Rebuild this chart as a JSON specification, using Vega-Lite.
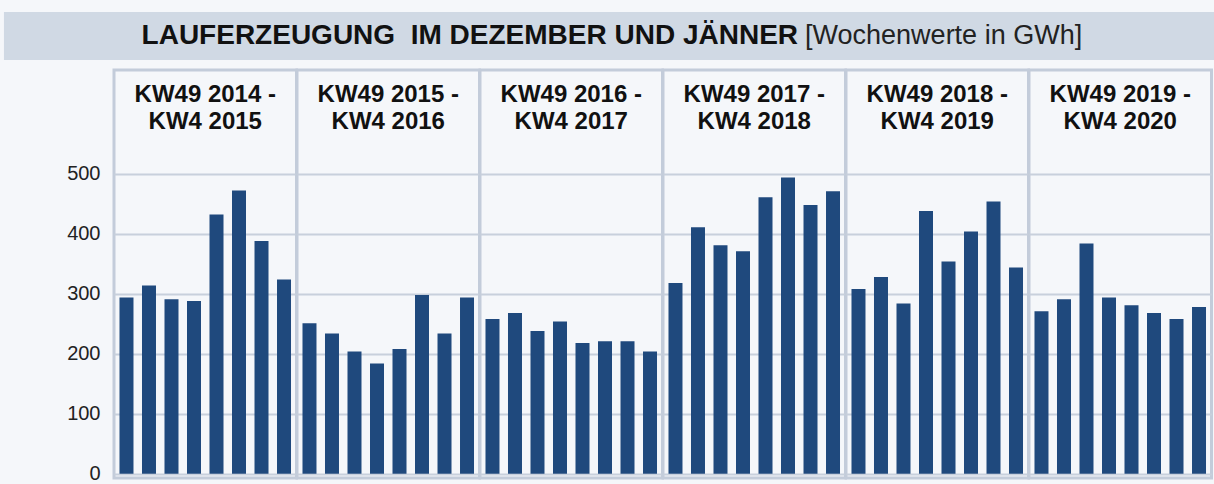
{
  "$schema": "https://vega.github.io/schema/vega-lite/v6.json",
  "background": "#f5f7fa",
  "padding": {"left": 3, "top": 12, "right": 0, "bottom": 5},
  "config": {"font": "Liberation Sans", "view": {"stroke": null}},
  "spacing": 8,
  "vconcat": [
    {
      "width": 1095,
      "height": 48,
      "view": {"stroke": null},
      "data": {"values": [{"bold": "LAUFERZEUGUNG\u00a0 IM DEZEMBER UND JÄNNER", "unit": "[Wochenwerte in GWh]"}]},
      "layer": [
        {
          "mark": {"type": "rect", "color": "#d0d9e4"},
          "encoding": {
            "x": {"datum": -0.1005, "type": "quantitative", "scale": {"domain": [0, 1]}, "axis": null},
            "x2": {"datum": 1.0055}
          }
        },
        {
          "mark": {"type": "text", "align": "right", "baseline": "middle", "fontSize": 28, "fontWeight": "bold", "color": "#111111"},
          "encoding": {
            "x": {"datum": 0.6247, "type": "quantitative", "scale": {"domain": [0, 1]}, "axis": null},
            "y": {"datum": 0.5, "type": "quantitative", "scale": {"domain": [0, 1]}, "axis": null},
            "text": {"field": "bold"}
          }
        },
        {
          "mark": {"type": "text", "align": "left", "baseline": "middle", "fontSize": 27, "fontWeight": "normal", "color": "#222222"},
          "encoding": {
            "x": {"datum": 0.6311, "type": "quantitative", "scale": {"domain": [0, 1]}, "axis": null},
            "y": {"datum": 0.5, "type": "quantitative", "scale": {"domain": [0, 1]}, "axis": null},
            "text": {"field": "unit"}
          }
        }
      ]
    },
    {
      "data": {"values": [
        {"period": "2014/15", "label": "KW49 2014 -\nKW4 2015", "week": "KW49", "value": 294},
        {"period": "2014/15", "label": "KW49 2014 -\nKW4 2015", "week": "KW50", "value": 314},
        {"period": "2014/15", "label": "KW49 2014 -\nKW4 2015", "week": "KW51", "value": 291},
        {"period": "2014/15", "label": "KW49 2014 -\nKW4 2015", "week": "KW52", "value": 288},
        {"period": "2014/15", "label": "KW49 2014 -\nKW4 2015", "week": "KW1", "value": 432},
        {"period": "2014/15", "label": "KW49 2014 -\nKW4 2015", "week": "KW2", "value": 472},
        {"period": "2014/15", "label": "KW49 2014 -\nKW4 2015", "week": "KW3", "value": 388},
        {"period": "2014/15", "label": "KW49 2014 -\nKW4 2015", "week": "KW4", "value": 324},
        {"period": "2015/16", "label": "KW49 2015 -\nKW4 2016", "week": "KW49", "value": 251},
        {"period": "2015/16", "label": "KW49 2015 -\nKW4 2016", "week": "KW50", "value": 234},
        {"period": "2015/16", "label": "KW49 2015 -\nKW4 2016", "week": "KW51", "value": 204},
        {"period": "2015/16", "label": "KW49 2015 -\nKW4 2016", "week": "KW52", "value": 184},
        {"period": "2015/16", "label": "KW49 2015 -\nKW4 2016", "week": "KW1", "value": 208},
        {"period": "2015/16", "label": "KW49 2015 -\nKW4 2016", "week": "KW2", "value": 298},
        {"period": "2015/16", "label": "KW49 2015 -\nKW4 2016", "week": "KW3", "value": 234},
        {"period": "2015/16", "label": "KW49 2015 -\nKW4 2016", "week": "KW4", "value": 294},
        {"period": "2016/17", "label": "KW49 2016 -\nKW4 2017", "week": "KW49", "value": 258},
        {"period": "2016/17", "label": "KW49 2016 -\nKW4 2017", "week": "KW50", "value": 268},
        {"period": "2016/17", "label": "KW49 2016 -\nKW4 2017", "week": "KW51", "value": 238},
        {"period": "2016/17", "label": "KW49 2016 -\nKW4 2017", "week": "KW52", "value": 254},
        {"period": "2016/17", "label": "KW49 2016 -\nKW4 2017", "week": "KW1", "value": 218},
        {"period": "2016/17", "label": "KW49 2016 -\nKW4 2017", "week": "KW2", "value": 221},
        {"period": "2016/17", "label": "KW49 2016 -\nKW4 2017", "week": "KW3", "value": 221},
        {"period": "2016/17", "label": "KW49 2016 -\nKW4 2017", "week": "KW4", "value": 204},
        {"period": "2017/18", "label": "KW49 2017 -\nKW4 2018", "week": "KW49", "value": 318},
        {"period": "2017/18", "label": "KW49 2017 -\nKW4 2018", "week": "KW50", "value": 411},
        {"period": "2017/18", "label": "KW49 2017 -\nKW4 2018", "week": "KW51", "value": 381},
        {"period": "2017/18", "label": "KW49 2017 -\nKW4 2018", "week": "KW52", "value": 371},
        {"period": "2017/18", "label": "KW49 2017 -\nKW4 2018", "week": "KW1", "value": 461},
        {"period": "2017/18", "label": "KW49 2017 -\nKW4 2018", "week": "KW2", "value": 494},
        {"period": "2017/18", "label": "KW49 2017 -\nKW4 2018", "week": "KW3", "value": 448},
        {"period": "2017/18", "label": "KW49 2017 -\nKW4 2018", "week": "KW4", "value": 471},
        {"period": "2018/19", "label": "KW49 2018 -\nKW4 2019", "week": "KW49", "value": 308},
        {"period": "2018/19", "label": "KW49 2018 -\nKW4 2019", "week": "KW50", "value": 328},
        {"period": "2018/19", "label": "KW49 2018 -\nKW4 2019", "week": "KW51", "value": 284},
        {"period": "2018/19", "label": "KW49 2018 -\nKW4 2019", "week": "KW52", "value": 438},
        {"period": "2018/19", "label": "KW49 2018 -\nKW4 2019", "week": "KW1", "value": 354},
        {"period": "2018/19", "label": "KW49 2018 -\nKW4 2019", "week": "KW2", "value": 404},
        {"period": "2018/19", "label": "KW49 2018 -\nKW4 2019", "week": "KW3", "value": 454},
        {"period": "2018/19", "label": "KW49 2018 -\nKW4 2019", "week": "KW4", "value": 344},
        {"period": "2019/20", "label": "KW49 2019 -\nKW4 2020", "week": "KW49", "value": 271},
        {"period": "2019/20", "label": "KW49 2019 -\nKW4 2020", "week": "KW50", "value": 291},
        {"period": "2019/20", "label": "KW49 2019 -\nKW4 2020", "week": "KW51", "value": 384},
        {"period": "2019/20", "label": "KW49 2019 -\nKW4 2020", "week": "KW52", "value": 294},
        {"period": "2019/20", "label": "KW49 2019 -\nKW4 2020", "week": "KW1", "value": 281},
        {"period": "2019/20", "label": "KW49 2019 -\nKW4 2020", "week": "KW2", "value": 268},
        {"period": "2019/20", "label": "KW49 2019 -\nKW4 2020", "week": "KW3", "value": 258},
        {"period": "2019/20", "label": "KW49 2019 -\nKW4 2020", "week": "KW4", "value": 278}
      ]},
      "facet": {
        "column": {
          "field": "period",
          "type": "nominal",
          "sort": ["2014/15", "2015/16", "2016/17", "2017/18", "2018/19", "2019/20"],
          "header": {"title": null, "labels": false}
        }
      },
      "spacing": 0,
      "bounds": "flush",
      "spec": {
        "width": 182.5,
        "height": 408,
        "view": {"stroke": "#c3ccda", "strokeWidth": 3, "fill": "#f5f7fa"},
        "layer": [
          {
            "mark": {"type": "bar", "color": "#1f497d"},
            "encoding": {
              "x": {
                "field": "week",
                "type": "ordinal",
                "sort": ["KW49", "KW50", "KW51", "KW52", "KW1", "KW2", "KW3", "KW4"],
                "axis": null,
                "scale": {"paddingInner": 0.378, "paddingOuter": 0.244}
              },
              "y": {
                "field": "value",
                "type": "quantitative",
                "scale": {"domain": [-7, 673], "nice": false},
                "axis": {
                  "values": [0, 100, 200, 300, 400, 500],
                  "grid": true,
                  "gridColor": "#c8d0dc",
                  "gridWidth": 2,
                  "domain": false,
                  "ticks": false,
                  "labelPadding": 14,
                  "labelFontSize": 20,
                  "labelColor": "#222222",
                  "title": null
                }
              }
            }
          },
          {
            "transform": [{"filter": "datum.week == 'KW49'"}],
            "mark": {"type": "text", "lineBreak": "\n", "fontSize": 24, "fontWeight": "bold", "lineHeight": 27, "baseline": "middle", "align": "center", "color": "#111111"},
            "encoding": {
              "x": {"datum": 0.5, "type": "quantitative", "scale": {"domain": [0, 1]}, "axis": null},
              "y": {"datum": 631, "type": "quantitative"},
              "text": {"field": "label"}
            }
          }
        ],
        "resolve": {"scale": {"x": "independent"}}
      }
    }
  ]
}
